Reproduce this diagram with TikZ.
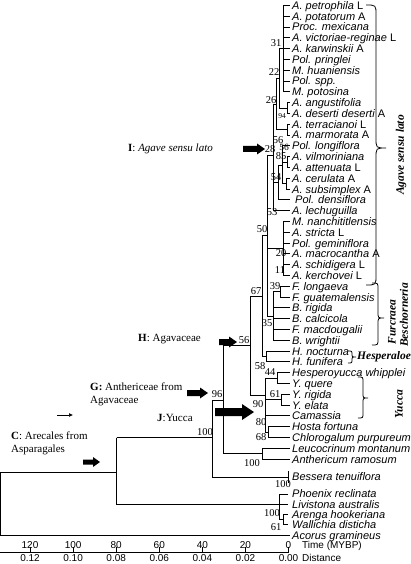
\documentclass[tikz,border=0pt]{standalone}
\usepackage{fontspec}
\usetikzlibrary{arrows.meta}
\setmainfont{Liberation Serif}
\newfontfamily\arialf{Liberation Sans}
\newcommand{\fatarr}[6]{% x1 x2 y shaft head headlen
  \fill (#1,#3-#4/2) -- (#2-#6,#3-#4/2) -- (#2-#6,#3-#5/2) -- (#2,#3) -- (#2-#6,#3+#5/2) -- (#2-#6,#3+#4/2) -- (#1,#3+#4/2) -- cycle;}
\newcommand{\mybrace}[5]{% x top bottom tipy amp
  \draw[line width=0.8pt] (#1-#5,#2) .. controls (#1,#2) .. (#1,#2+#5) -- (#1,#4-#5) .. controls (#1,#4) .. (#1+#5,#4) .. controls (#1,#4) .. (#1,#4+#5) -- (#1,#3-#5) .. controls (#1,#3) .. (#1-#5,#3);}
\begin{document}
\begin{tikzpicture}[x=1pt,y=-1pt]
\useasboundingbox (0,0) rectangle (410,564);
\tikzset{
 br/.style={line width=0.9pt, black},
 taxon/.style={anchor=base west, inner sep=0pt, font=\arialf\itshape\fontsize{11}{11}\selectfont},
 bs/.style={inner sep=0pt, font=\fontsize{10.5}{10.5}\selectfont},
 annot/.style={anchor=base west, inner sep=0pt, font=\fontsize{11}{13}\selectfont, align=left},
 grp/.style={inner sep=0pt, font=\bfseries\itshape\fontsize{11.5}{11.5}\selectfont},
 axn/.style={inner sep=0pt, font=\arialf\fontsize{10}{10}\selectfont},
}
% ---------- leaf labels ----------
\foreach \txt [count=\i] in {
 A. petrophila {\upshape L}, A. potatorum {\upshape A}, Proc. mexicana, A. victoriae-reginae {\upshape L},
 A. karwinskii {\upshape A}, Pol. pringlei, M. huaniensis, Pol. spp., M. potosina, A. angustifolia,
 A. deserti deserti {\upshape A}, A. terracianoi {\upshape L}, A. marmorata {\upshape A}, Pol. longiflora,
 A. vilmoriniana, A. attenuata {\upshape L}, A. cerulata {\upshape A}, A. subsimplex {\upshape A},
 \hspace*{3pt}Pol. densiflora, A. lechuguilla, M. nanchititlensis, A. stricta {\upshape L}, Pol. geminiflora,
 A. macrocantha {\upshape A}, A. schidigera {\upshape L}, A. kerchovei {\upshape L}, F. longaeva,
 F. guatemalensis, B. rigida, B. calcicola, F. macdougalii, B. wrightii, H. nocturna, H. funifera,
 Hesperoyucca whipplei, Y. quere, Y. rigida, Y. elata, Camassia, Hosta fortuna, Chlorogalum purpureum,
 Leucocrinum montanum, Anthericum ramosum}
 { \pgfmathsetmacro\yy{5.5+(\i-1)*10.8+3.9}
   \node[taxon] (t\i) at (292,\yy) {\txt}; }
\node[taxon] (t44) at (292,480.9) {Bessera tenuiflora};
\node[taxon] (t45) at (292,497.9) {Phoenix reclinata};
\node[taxon] (t46) at (292,508.4) {Livistona australis};
\node[taxon] (t47) at (292,518.4) {Arenga hookeriana};
\node[taxon] (t48) at (292,528.4) {Wallichia disticha};
\node[taxon] (t49) at (292,539.4) {Acorus gramineus};
% ---------- tree ----------
% Agave s.l.
\draw[br] (283,5.5) -- (283,91.9);
\foreach \r in {5.5,16.3,27.1,37.9,48.7,59.5,70.3,81.1,91.9} \draw[br] (283,\r) -- (290,\r);
\draw[br] (279,48.7) -- (283,48.7) (279,48.7) -- (279,108.1);
\draw[br] (279,108.1) -- (287,108.1) (287,102.7) -- (287,113.5) (287,102.7) -- (290,102.7) (287,113.5) -- (290,113.5);
\draw[br] (276,78.4) -- (279,78.4) (276,78.4) -- (276,129.7);
\draw[br] (276,129.7) -- (287,129.7) (287,124.3) -- (287,135.1) (287,124.3) -- (290,124.3) (287,135.1) -- (290,135.1);
\draw[br] (273,104) -- (276,104) (273,104) -- (273,210.7) (273,210.7) -- (290,210.7);
\draw[br] (273,182) -- (278,182) (278,165) -- (278,199.9) (278,199.9) -- (290,199.9);
\draw[br] (278,165) -- (282,165) (282,145.9) -- (282,183.7) (282,145.9) -- (290,145.9);
\draw[br] (282,162.1) -- (287,162.1) (287,156.7) -- (287,167.5) (287,156.7) -- (290,156.7) (287,167.5) -- (290,167.5);
\draw[br] (282,183.7) -- (286,183.7) (286,178.3) -- (286,189.1) (286,178.3) -- (290,178.3) (286,189.1) -- (290,189.1);
\draw[br] (267,155) -- (273,155) (267,155) -- (267,316);
\draw[br] (267,248.5) -- (283,248.5) (283,221.5) -- (283,275.5);
\foreach \r in {221.5,232.3,243.1,253.9,264.7,275.5} \draw[br] (283,\r) -- (290,\r);
% Furcraea / Beschorneria
\draw[br] (267,316) -- (273,316) (273,291.7) -- (273,340.3);
\foreach \r in {307.9,318.7,329.5,340.3} \draw[br] (273,\r) -- (290,\r);
\draw[br] (273,291.7) -- (280,291.7) (280,286.3) -- (280,297.1) (280,286.3) -- (290,286.3) (280,297.1) -- (290,297.1);
% Hesperaloe
\draw[br] (262,235.5) -- (267,235.5) (262,235.5) -- (262,356.5);
\draw[br] (262,356.5) -- (266,356.5) (266,351.1) -- (266,361.9) (266,351.1) -- (290,351.1) (266,361.9) -- (290,361.9);
\draw[br] (250,296) -- (262,296) (250,296) -- (250,395);
% Yucca group
\draw[br] (250,395) -- (265,395) (265,378.1) -- (265,432.1);
\draw[br] (265,378.1) -- (277,378.1) (277,372.7) -- (277,383.5) (277,372.7) -- (290,372.7) (277,383.5) -- (290,383.5);
\draw[br] (265,399.7) -- (281,399.7) (281,394.3) -- (281,405.1) (281,394.3) -- (290,394.3) (281,405.1) -- (290,405.1);
\draw[br] (265,415.9) -- (290,415.9);
\draw[br] (265,432.1) -- (268,432.1) (268,426.7) -- (268,437.5) (268,426.7) -- (290,426.7) (268,437.5) -- (290,437.5);
% Anthericeae
\draw[br] (223,345.5) -- (250,345.5) (223,345.5) -- (223,453.7);
\draw[br] (223,453.7) -- (262,453.7) (262,448.3) -- (262,459.1) (262,448.3) -- (290,448.3) (262,459.1) -- (290,459.1);
% Bessera
\draw[br] (212,400) -- (223,400) (212,400) -- (212,477) (212,477) -- (288,477) (288,471) -- (288,483);
% palms
\draw[br] (116.7,437.7) -- (212,437.7) (116.7,437.7) -- (116.7,504.5) (116.7,504.5) -- (279,504.5);
\draw[br] (279,494) -- (279,519.5) (279,494) -- (288,494) (279,504.5) -- (288,504.5) (279,519.5) -- (283,519.5);
\draw[br] (283,514.5) -- (283,524.5) (283,514.5) -- (288,514.5) (283,524.5) -- (288,524.5);
% root
\draw[br] (0.5,472) -- (116.7,472) (0.5,472) -- (0.5,535.5) (0.5,535.5) -- (290,535.5);
% ---------- bootstrap values ----------
\node[bs] (b31) at (276,43) {31};
\node[bs] (b22) at (274,72) {22};
\node[bs] (b26) at (271,100) {26};
\node[bs, font=\fontsize{7.5}{7.5}\selectfont] (b94) at (282,116) {94};
\node[bs] (b56a) at (278,140) {56};
\node[bs, font=\fontsize{9.5}{9.5}\selectfont] (b56b) at (284,147.5) {56};
\node[bs] (b28) at (270,149) {28};
\node[bs] (b85) at (281,156) {85};
\node[bs] (b54) at (276,177) {54};
\node[bs] (b53) at (272,212) {53};
\node[bs] (b50) at (262,229) {50};
\node[bs] (b20) at (281,253) {20};
\node[bs] (b11) at (280,270) {11};
\node[bs] (b39) at (275,286) {39};
\node[bs] (b67) at (256,291) {67};
\node[bs] (b35) at (267,323) {35};
\node[bs] (b56c) at (244,340) {56};
\node[bs] (b58) at (260,366) {58};
\node[bs] (b44) at (270,372) {44};
\node[bs] (b61a) at (275,394) {61};
\node[bs] (b96) at (217,394) {96};
\node[bs] (b90) at (258,404) {90};
\node[bs] (b80) at (261,422) {80};
\node[bs] (b68) at (261,437) {68};
\node[bs] (b100a) at (205,432) {100};
\node[bs] (b100b) at (252,463) {100};
\node[bs] (b100c) at (283,484) {100};
\node[bs] (b100d) at (272,513) {100};
\node[bs] (b61b) at (276,527) {61};
% ---------- braces & group names ----------
\mybrace{376}{5}{285}{148}{10}
\mybrace{378}{283}{345}{318}{6}
\mybrace{352}{351}{363}{357}{4}
\mybrace{363}{377}{418}{398}{5}
\node[grp, rotate=90] (gA) at (401,155) {Agave sensu lato};
\node[grp, rotate=90] (gF) at (392,322) {Furcraea};
\node[grp, rotate=90] (gB) at (404,315) {Beschorneria};
\node[grp, anchor=west] (gH) at (357,357) {Hesperaloe};
\node[grp, rotate=90] (gY) at (399,404) {Yucca};
% ---------- annotations ----------
\node[annot] (aC) at (11,452.5) {\textbf{C}: Arecales from\\Asparagales};
\node[annot] (aG) at (90,403.5) {\textbf{G:} Anthericeae from\\Agavaceae};
\node[annot] (aJ) at (157,421.5) {\textbf{J}:Yucca};
\node[annot] (aH) at (138,341.5) {\textbf{H}: Agavaceae};
\node[annot, anchor=base east] (aI) at (213,151.5) {\textbf{I}: \textit{Agave sensu lato}};
\fatarr{83}{100}{462}{5}{10}{7}
\fatarr{187}{208}{393}{6}{11}{8}
\fatarr{219}{237}{342}{6}{11}{8}
\fatarr{243}{265}{149}{6}{11}{8}
\fatarr{215}{254}{412}{8}{16}{12}
\draw[line width=0.7pt, -{Latex[length=4pt,width=4pt]}] (57,415) -- (73,415);
% ---------- axis ----------
\draw[br] (0,552) -- (288.5,552);
\foreach \k/\t/\d in {0/0/0.00,1/20/0.02,2/40/0.04,3/60/0.06,4/80/0.08,5/100/0.10,6/120/0.12}{
  \pgfmathsetmacro\xx{288.5-\k*43.08}
  \draw[line width=0.7pt] (\xx,547) -- (\xx,552);
  \node[axn] (tm\k) at (\xx,545.5) {\t};
  \node[axn] (ds\k) at (\xx,558.3) {\d};
}
\node[axn, anchor=west] (tl) at (302,545.5) {Time (MYBP)};
\node[axn, anchor=west] (dl) at (302,558.3) {Distance};
\end{tikzpicture}
\end{document}
